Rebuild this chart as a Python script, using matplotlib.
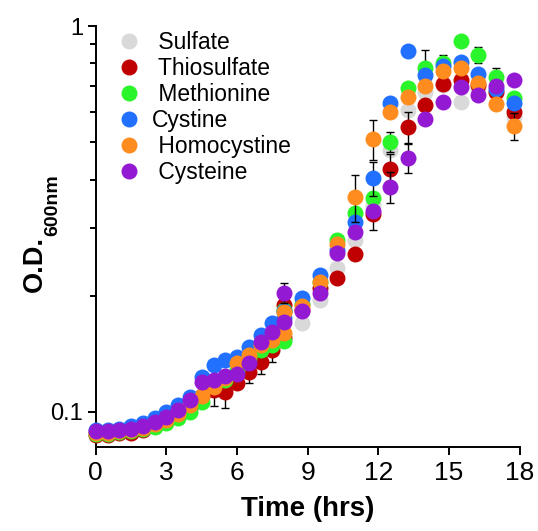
import numpy as np
import matplotlib
matplotlib.use("Agg")
import matplotlib.pyplot as plt
from matplotlib.ticker import FixedLocator, NullFormatter

plt.rcParams['font.family'] = ['Liberation Sans', 'DejaVu Sans']

# sampling: every 30 min up to 8 h, then every 45 min (8 h measured twice)
time = [0, 0.5, 1, 1.5, 2, 2.5, 3, 3.5, 4, 4.5, 5, 5.5, 6, 6.5, 7, 7.5, 8,
        8, 8.75, 9.5, 10.25, 11, 11.75, 12.5, 13.25, 14, 14.75, 15.5, 16.25, 17, 17.75]

sulfate = [0.0886, 0.0886, 0.0892, 0.0897, 0.0908, 0.0930, 0.0952, 0.0986, 0.1029, 0.1105,
           0.1173, 0.1194, 0.1260, 0.1361, 0.1445, 0.1553, 0.1581,
           0.1813, 0.1699, 0.1948, 0.2358, 0.2788, 0.3435, 0.4770, 0.6056, 0.6743, 0.7031,
           0.6353, 0.6824, 0.6743, 0.5808]
thiosulfate = [0.0870, 0.0870, 0.0881, 0.0881, 0.0897, 0.0919, 0.0946, 0.0980, 0.1022, 0.1098,
               0.1138, 0.1125, 0.1187, 0.1268, 0.1345, 0.1445, 0.1553,
               0.1891, 0.1835, 0.2093, 0.2222, 0.2564, 0.3255, 0.4259, 0.5472, 0.6240, 0.7074,
               0.7244, 0.7031, 0.6743, 0.5983]
methionine = [0.0875, 0.0875, 0.0886, 0.0892, 0.0903, 0.0913, 0.0935, 0.0963, 0.0998, 0.1060,
              0.1173, 0.1208, 0.1283, 0.1378, 0.1445, 0.1489, 0.1525,
              0.1835, 0.1902, 0.2169, 0.2788, 0.3275, 0.3581, 0.5003, 0.6906, 0.7782, 0.8018,
              0.9143, 0.8410, 0.7375, 0.6505]
cystine = [0.0897, 0.0897, 0.0903, 0.0919, 0.0935, 0.0963, 0.0998, 0.1041, 0.1092, 0.1230,
           0.1321, 0.1361, 0.1386, 0.1471, 0.1581, 0.1699, 0.1750,
           0.1824, 0.1972, 0.2262, 0.2626, 0.3104, 0.4036, 0.6314, 0.8614, 0.7464, 0.7876,
           0.8063, 0.7509, 0.6865, 0.6314]
homocystine = [0.0881, 0.0881, 0.0892, 0.0897, 0.0908, 0.0930, 0.0952, 0.0986, 0.1041, 0.1098,
               0.1159, 0.1223, 0.1337, 0.1403, 0.1489, 0.1534, 0.1600,
               0.1813, 0.1880, 0.2169, 0.2722, 0.3603, 0.5094, 0.5983, 0.6546, 0.6989, 0.7644,
               0.7782, 0.7114, 0.6277, 0.5504]
cysteine = [0.0892, 0.0892, 0.0897, 0.0905, 0.0916, 0.0941, 0.0969, 0.1010, 0.1072, 0.1194,
            0.1208, 0.1237, 0.1252, 0.1337, 0.1516, 0.1610, 0.1710,
            0.2031, 0.1824, 0.2031, 0.2580, 0.2925, 0.3314, 0.3824, 0.4548, 0.5740, 0.6353,
            0.6947, 0.6623, 0.6989, 0.7244]

# standard deviations (index in time list -> sd), only where the bars show
sd_thiosulfate = {10: 0.010, 11: 0.010, 13: 0.008, 14: 0.009, 15: 0.010, 22: 0.03, 23: 0.04, 24: 0.05}
sd_methionine = {23: 0.03, 25: 0.09, 26: 0.04, 28: 0.04, 29: 0.04}
sd_cystine = {22: 0.04}
sd_homocystine = {21: 0.05, 22: 0.06, 30: 0.045}
sd_cysteine = {17: 0.012, 23: 0.035, 24: 0.04}
sd_sulfate = {}

labels = [' Sulfate', ' Thiosulfate', ' Methionine', 'Cystine', ' Homocystine', ' Cysteine']
colors = ['#d9d9d9', '#c00000', '#2af52a', '#2170ff', '#ff8c1e', '#9419d2']
series = [sulfate, thiosulfate, methionine, cystine, homocystine, cysteine]
sds = [sd_sulfate, sd_thiosulfate, sd_methionine, sd_cystine, sd_homocystine, sd_cysteine]

fig = plt.figure(figsize=(5.38, 5.31), dpi=100)
ax = fig.add_axes([0.178, 0.158, 0.788, 0.793])

t = np.array(time)
for k, (vals, sd, col, lab) in enumerate(zip(series, sds, colors, labels)):
    v = np.array(vals)
    err = np.zeros(len(v))
    for i, e in sd.items():
        err[i] = e
    ax.errorbar(t, v, yerr=err, fmt='none', ecolor='black', elinewidth=1,
                capsize=3, capthick=1, zorder=2 + 2 * k, clip_on=False)
    ax.plot(t, v, 'o', color=col, markersize=11.5, markeredgewidth=0,
            label=lab, zorder=3 + 2 * k, clip_on=False)

ax.set_yscale('log')
ax.set_xlim(0, 18)
ax.set_ylim(0.081, 1)
ax.set_xticks([0, 3, 6, 9, 12, 15, 18])
ax.yaxis.set_major_locator(FixedLocator([0.1, 1]))
ax.set_yticklabels(['0.1', '1'])
ax.yaxis.set_minor_locator(FixedLocator([0.2, 0.3, 0.4, 0.5, 0.6, 0.7, 0.8, 0.9]))
ax.yaxis.set_minor_formatter(NullFormatter())

for s in ['top', 'right']:
    ax.spines[s].set_visible(False)
for s in ['left', 'bottom']:
    ax.spines[s].set_linewidth(1.4)

ax.tick_params(axis='x', which='major', direction='out', length=6, width=1.4, labelsize=19, pad=4)
ax.tick_params(axis='y', which='major', direction='out', length=6, width=1.4, labelsize=17, pad=3)
ax.tick_params(axis='y', which='minor', direction='out', length=4, width=1.4)

ax.set_xlabel('Time (hrs)', fontsize=20, fontweight='bold', labelpad=8)

# y label with subscript, built from two text pieces
ylab = fig.text(0.064, 1 - 292 / 531, 'O.D.', rotation=90, fontsize=19.5,
                fontweight='bold', ha='center', va='bottom')
ax.annotate('600nm', xy=(1, 1), xycoords=ylab, xytext=(10, 0), textcoords='offset points',
            rotation=90, fontsize=14, fontweight='bold', ha='right', va='bottom')

ax.legend(loc='upper left', bbox_to_anchor=(0.02, 1.02), frameon=False, fontsize=16.5,
          handletextpad=0.5, labelspacing=0.13, handlelength=1.0, borderaxespad=0.2)

fig.savefig('out.png', dpi=100)
